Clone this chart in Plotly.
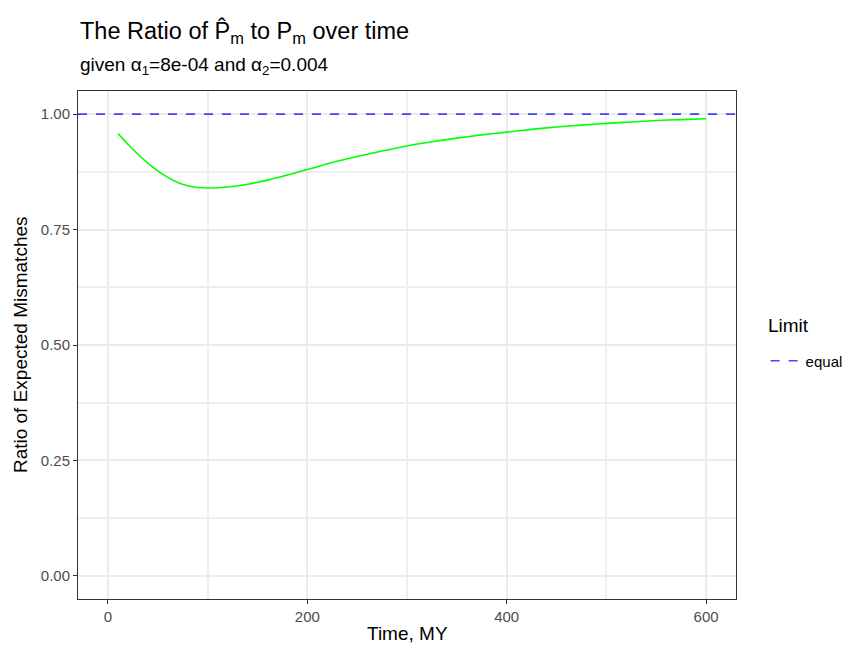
import plotly.graph_objects as go

time_my = [10, 20, 30, 40, 50, 60, 70, 80, 90, 100, 120, 140, 160, 180, 200,
           225, 250, 275, 300, 325, 350, 375, 400, 425, 450, 475, 500, 525,
           550, 575, 600]
ratio = [0.958, 0.935, 0.913, 0.894, 0.877, 0.863, 0.852, 0.845, 0.841, 0.840,
         0.842, 0.848, 0.857, 0.868, 0.880, 0.895, 0.908, 0.920, 0.931, 0.940,
         0.948, 0.955, 0.961, 0.967, 0.972, 0.976, 0.980, 0.983, 0.986, 0.988,
         0.990]
limit_value = 1.0
limit_name = "equal"
x_ticks = [0, 200, 400, 600]
y_ticks = [0.0, 0.25, 0.5, 0.75, 1.0]
y_tick_labels = ["0.00", "0.25", "0.50", "0.75", "1.00"]

FONT = "Liberation Sans, Arial, Helvetica, sans-serif"

fig = go.Figure()
fig.add_trace(go.Scatter(x=time_my, y=ratio, mode="lines",
                         line=dict(color="#00FF00", width=1.6, shape="spline", smoothing=0.8),
                         showlegend=False, hoverinfo="x+y"))
fig.add_hline(y=limit_value, line=dict(color="rgba(0,0,255,0.72)", width=1.6, dash="dash"),
              showlegend=True, name=limit_name, layer="above")

axis_common = dict(showline=True, linecolor="#333333", linewidth=1, mirror=True,
                   ticks="outside", ticklen=4, tickcolor="#333333",
                   tickfont=dict(size=15, color="#4D4D4D", family=FONT),
                   showgrid=True, gridcolor="#EBEBEB", gridwidth=2,
                   zeroline=False, automargin=False)

fig.update_xaxes(range=[-30, 630], tickvals=x_ticks,
                 minor=dict(showgrid=True, gridcolor="#EFEFEF", gridwidth=1.6, dtick=100, tick0=0),
                 **axis_common)
fig.update_yaxes(range=[-0.05, 1.05], tickvals=y_ticks, ticktext=y_tick_labels,
                 minor=dict(showgrid=True, gridcolor="#EFEFEF", gridwidth=1.6, dtick=0.125, tick0=0),
                 **axis_common)

# page body has an 8px default margin, so the figure is sized to compensate
fig.update_layout(
    width=842, height=642,
    margin=dict(l=70, r=114, t=83, b=51, autoexpand=False),
    paper_bgcolor="white", plot_bgcolor="white",
    font=dict(family=FONT, color="#000000"),
    legend=dict(font=dict(size=15, color="#000000", family=FONT),
                x=1.045, xanchor="left", y=0.4685, yanchor="middle",
                itemwidth=30, bgcolor="rgba(0,0,0,0)"),
    annotations=[
        dict(text="The Ratio of P\u0302<sub>m</sub> to P<sub>m</sub> over time",
             xref="paper", yref="paper", x=0, y=1.116, xanchor="left", yanchor="middle",
             showarrow=False, font=dict(size=23.5, color="#000000", family=FONT)),
        dict(text="given \u03b1<sub>1</sub>=8e-04 and \u03b1<sub>2</sub>=0.004",
             xref="paper", yref="paper", x=0, y=1.049, xanchor="left", yanchor="middle",
             showarrow=False, font=dict(size=19, color="#000000", family=FONT)),
        dict(text="Time, MY", xref="paper", yref="paper", x=0.5, y=-0.067,
             xanchor="center", yanchor="middle", showarrow=False,
             font=dict(size=19, color="#000000", family=FONT)),
        dict(text="Ratio of Expected Mismatches", xref="paper", yref="paper",
             x=-0.088, y=0.5, xanchor="center", yanchor="middle", textangle=-90,
             showarrow=False, font=dict(size=19, color="#000000", family=FONT)),
        dict(text="Limit", xref="paper", yref="paper", x=1.0456, y=0.539,
             xanchor="left", yanchor="middle", showarrow=False,
             font=dict(size=19, color="#000000", family=FONT)),
    ],
)

fig.write_html("out.html")
